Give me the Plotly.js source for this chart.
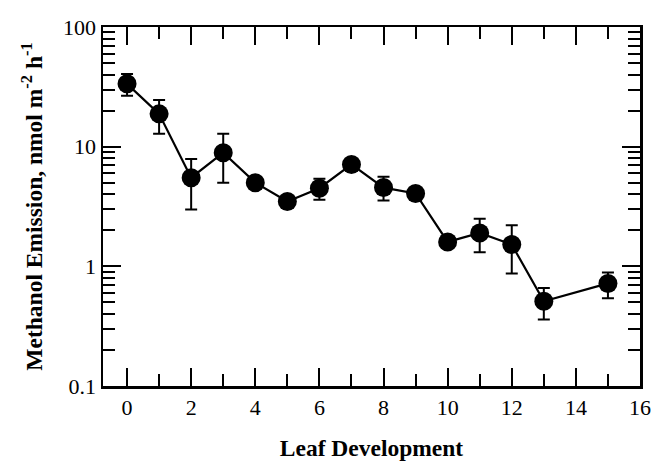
<!DOCTYPE html>
<html>
<head>
<meta charset="utf-8">
<script src="https://cdn.plot.ly/plotly-3.0.1.min.js"></script>
<style>html,body{margin:0;padding:0;background:#fff;}#chart{width:655px;height:461px;}</style>
</head>
<body>
<div id="chart"></div>
<script>
const leafDevelopment = [0, 1, 2, 3, 4, 5, 6, 7, 8, 9, 10, 11, 12, 13, 15];
const emission =        [33.5, 18.8, 5.5, 8.9, 5.0, 3.48, 4.5, 7.1, 4.55, 4.06, 1.6, 1.9, 1.52, 0.51, 0.72];
const errorPlus =       [7.0, 5.8, 2.4, 3.9, 0.3, 0.2, 0.9, 0.3, 1.05, 0.2, 0.1, 0.6, 0.68, 0.15, 0.17];
const errorMinus =      [6.9, 6.0, 2.52, 3.9, 0.3, 0.2, 0.9, 0.3, 1.0, 0.2, 0.1, 0.59, 0.65, 0.15, 0.18];
const xTickVals = [0, 2, 4, 6, 8, 10, 12, 14, 16];
const yTickVals = [0.1, 1, 10, 100];
const yTickText = ['0.1', '1', '10', '100'];

const serif = 'Liberation Serif, Times New Roman, serif';

const trace = {
  x: leafDevelopment,
  y: emission,
  type: 'scatter',
  mode: 'lines+markers',
  line: {color: '#000', width: 2.2},
  marker: {color: '#000', size: 19, symbol: 'circle'},
  error_y: {
    type: 'data', symmetric: false,
    array: errorPlus, arrayminus: errorMinus,
    color: '#000', thickness: 2, width: 6
  },
  cliponaxis: false,
  showlegend: false
};

const layout = {
  width: 655, height: 461,
  margin: {l: 103, r: 15, t: 27, b: 75},
  paper_bgcolor: '#fff', plot_bgcolor: '#fff',
  font: {family: serif, color: '#000'},
  xaxis: {
    range: [-0.75, 16],
    tickvals: xTickVals,
    ticks: 'inside', ticklen: 18, tickwidth: 2, tickcolor: '#000',
    minor: {dtick: 1, ticks: 'inside', ticklen: 12, tickwidth: 2, tickcolor: '#000'},
    showline: true, linewidth: 2.5, linecolor: '#000', mirror: 'ticks',
    showgrid: false, zeroline: false,
    tickfont: {family: serif, size: 22, color: '#000'},
    title: {text: '<b>Leaf Development</b>', font: {family: serif, size: 23.5, color: '#000'}, standoff: 22}
  },
  yaxis: {
    type: 'log',
    range: [-1, 2],
    tickvals: yTickVals, ticktext: yTickText,
    ticks: 'inside', ticklen: 18, tickwidth: 2, tickcolor: '#000',
    minor: {dtick: 'D1', ticks: 'inside', ticklen: 12, tickwidth: 2, tickcolor: '#000'},
    showline: true, linewidth: 2.5, linecolor: '#000', mirror: 'ticks',
    showgrid: false, zeroline: false,
    tickfont: {family: serif, size: 22, color: '#000'},
    title: {text: '<b>Methanol Emission, nmol m<sup>-2</sup> h<sup>-1</sup></b>', font: {family: serif, size: 23.5, color: '#000'}, standoff: 14}
  }
};

Plotly.newPlot('chart', [trace], layout, {staticPlot: true, displayModeBar: false});
</script>
</body>
</html>
